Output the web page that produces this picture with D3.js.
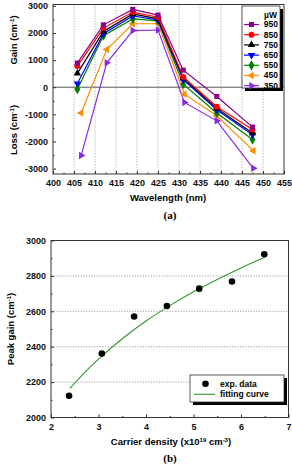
<!DOCTYPE html>
<html>
<head>
<meta charset="utf-8">
<script src="https://cdn.jsdelivr.net/npm/d3@7"></script>
<style>
  body { margin: 0; background: #fff; }
  svg { display: block; font-family: "Liberation Sans", Arial, sans-serif; font-weight: bold; }
</style>
</head>
<body>
<svg id="chart" width="292" height="465"></svg>
<script>
// panel (a) data: gain/loss spectra for each pump power
var powers = ["950", "850", "750", "650", "550", "450", "350"];
var powerColors = ["#8b008b", "#ff0000", "#000000", "#0000ff", "#008000", "#ff8c00", "#8a2be2"];
var wlBase = [405.8, 412, 419, 425, 431, 439, 447.5];
var wlShift = [406.7, 412.8, 419, 425, 431.3, 439, 447.7];
var gain950 = [890, 2300, 2870, 2660, 630, -340, -1470];
var gain850 = [780, 2180, 2770, 2580, 380, -720, -1560];
var gain750 = [510, 2055, 2700, 2520, 330, -780, -1690];
var gain650 = [135, 1970, 2630, 2480, 280, -830, -1750];
var gain550 = [-75, 1900, 2520, 2445, 110, -950, -1930];
var gain450 = [-950, 1390, 2340, 2340, -255, -1050, -2340];
var gain350 = [-2520, 900, 2090, 2110, -560, -1240, -2990];
var xTicksA = [400, 405, 410, 415, 420, 425, 430, 435, 440, 445, 450, 455];
var yTicksA = [-3000, -2000, -1000, 0, 1000, 2000, 3000];

// panel (b) data: peak gain vs carrier density
var density = [2.38, 3.07, 3.75, 4.44, 5.12, 5.81, 6.49];
var peakGain = [2123, 2361, 2571, 2630, 2728, 2768, 2922];
var fitDensity = [2.4, 2.7, 3.0, 3.5, 4.0, 4.5, 5.0, 5.5, 6.0, 6.5];
var fitGain = [2165, 2252, 2330, 2445, 2545, 2632, 2710, 2780, 2845, 2905];
var xTicksB = [2, 3, 4, 5, 6, 7];
var yTicksB = [2000, 2200, 2400, 2600, 2800, 3000];

var svg = d3.select("#chart");
var plain = function(d) { return String(d); };

//Panel (a)
var series = [gain950, gain850, gain750, gain650, gain550, gain450, gain350].map(function(vals, i) {
    var wl = i >= 5 ? wlShift : wlBase;
    return {key: powers[i], color: powerColors[i], shape: i,
        points: vals.map(function(v, j) { return {x: wl[j], y: v}; })};
});

var xa = d3.scaleLinear().domain([400, 455]).range([53, 284]);
var ya = d3.scaleLinear().domain([-3200, 3050]).range([174, 4.5]);

var shapes = [d3.symbolSquare, d3.symbolCircle, d3.symbolTriangle, d3.symbolTriangle,
    d3.symbolDiamond, d3.symbolTriangle, d3.symbolTriangle];
var rot = [0, 0, 0, 180, 0, -90, 90];
var sizes = [26, 28, 24, 24, 30, 24, 24];

var ga = svg.append("g");

// dotted verticals
ga.selectAll(".vgrid")
    .data(d3.range(405, 451, 5))
    .enter().append("line")
    .attr("x1", function(d) { return xa(d); })
    .attr("x2", function(d) { return xa(d); })
    .attr("y1", ya.range()[1]).attr("y2", ya.range()[0])
    .attr("stroke", "#999").attr("stroke-width", 0.8)
    .attr("stroke-dasharray", "1.2,1.5");

// zero line
ga.append("line")
    .attr("x1", xa.range()[0]).attr("x2", xa.range()[1])
    .attr("y1", ya(0)).attr("y2", ya(0))
    .attr("stroke", "#555").attr("stroke-width", 1);

ga.append("g")
    .attr("transform", "translate(0," + ya.range()[0] + ")")
    .call(d3.axisBottom(xa).tickValues(xTicksA).tickSize(-3).tickPadding(6).tickFormat(plain));
ga.append("g")
    .attr("transform", "translate(0," + ya.range()[0] + ")")
    .call(d3.axisBottom(xa).tickValues(d3.range(402.5, 455, 5)).tickSize(-1.5).tickFormat(""));
ga.append("g")
    .attr("transform", "translate(" + xa.range()[0] + ",0)")
    .call(d3.axisLeft(ya).tickValues(yTicksA).tickSize(-3).tickPadding(5).tickFormat(plain));
ga.append("g")
    .attr("transform", "translate(" + xa.range()[0] + ",0)")
    .call(d3.axisLeft(ya).tickValues(d3.range(-2500, 3000, 1000)).tickSize(-1.5).tickFormat(""));

ga.selectAll(".domain").remove();
ga.selectAll(".tick line").attr("stroke", "#333");
ga.selectAll(".tick text").attr("font-size", 9).attr("font-weight", "bold").attr("fill", "#111")
    .attr("font-family", "Liberation Sans, Arial, sans-serif");

ga.append("rect")
    .attr("x", xa.range()[0]).attr("y", ya.range()[1])
    .attr("width", xa.range()[1] - xa.range()[0])
    .attr("height", ya.range()[0] - ya.range()[1])
    .attr("fill", "none").attr("stroke", "#333").attr("stroke-width", 1);

var lineA = d3.line().x(function(d) { return xa(d.x); }).y(function(d) { return ya(d.y); });

var sg = ga.selectAll(".series")
    .data(series.slice().reverse())
    .enter().append("g")
    .attr("class", "series");

sg.append("path")
    .attr("d", function(d) { return lineA(d.points); })
    .attr("fill", "none")
    .attr("stroke", function(d) { return d.color; })
    .attr("stroke-width", 1.2);

sg.selectAll("path.mark")
    .data(function(d) { return d.points.map(function(p) { return {p: p, s: d}; }); })
    .enter().append("path")
    .attr("class", "mark")
    .attr("d", function(d) { return d3.symbol().type(shapes[d.s.shape]).size(sizes[d.s.shape])(); })
    .attr("transform", function(d) {
        return "translate(" + xa(d.p.x) + "," + ya(d.p.y) + ") rotate(" + rot[d.s.shape] + ")";
    })
    .attr("fill", function(d) { return d.s.color; });

// axis titles
ga.append("text")
    .attr("transform", "translate(17,40) rotate(-90)")
    .attr("text-anchor", "middle").attr("font-size", 9.5)
    .html('Gain (cm<tspan dy="-3" font-size="6">-1</tspan><tspan dy="3">)</tspan>');
ga.append("text")
    .attr("transform", "translate(17,130) rotate(-90)")
    .attr("text-anchor", "middle").attr("font-size", 9.5)
    .html('Loss (cm<tspan dy="-3" font-size="6">-1</tspan><tspan dy="3">)</tspan>');
ga.append("text")
    .attr("x", 168).attr("y", 201)
    .attr("text-anchor", "middle").attr("font-size", 9.5)
    .text("Wavelength (nm)");
ga.append("text")
    .attr("x", 170).attr("y", 219)
    .attr("text-anchor", "middle").attr("font-size", 11)
    .attr("font-family", "Liberation Serif, serif")
    .text("(a)");

// legend (a)
var legA = ga.append("g").attr("transform", "translate(242,6)");
legA.append("rect").attr("x", 3).attr("y", 3).attr("width", 38).attr("height", 82).attr("fill", "#000");
legA.append("rect").attr("x", 0).attr("y", 0).attr("width", 38).attr("height", 82)
    .attr("fill", "#fff").attr("stroke", "#333").attr("stroke-width", 0.8);
legA.append("text").attr("x", 35).attr("y", 11.5).attr("text-anchor", "end")
    .attr("font-size", 8.5).text("\u00b5W");
var legItem = legA.selectAll(".li")
    .data(series)
    .enter().append("g")
    .attr("transform", function(d, i) { return "translate(0," + (18.5 + i * 10.2) + ")"; });
legItem.append("line")
    .attr("x1", 2).attr("x2", 17)
    .attr("stroke", function(d) { return d.color; }).attr("stroke-width", 1.2);
legItem.append("path")
    .attr("d", function(d) { return d3.symbol().type(shapes[d.shape]).size(sizes[d.shape])(); })
    .attr("transform", function(d) { return "translate(9.5,0) rotate(" + rot[d.shape] + ")"; })
    .attr("fill", function(d) { return d.color; });
legItem.append("text")
    .attr("x", 36).attr("dy", "0.35em")
    .attr("text-anchor", "end").attr("font-size", 8.5)
    .text(function(d) { return d.key; });

//Panel (b)
var xb = d3.scaleLinear().domain([2, 7]).range([51, 288.5]);
var yb = d3.scaleLinear().domain([2000, 3000]).range([417.5, 240.5]);

var gb = svg.append("g");

gb.selectAll(".hgrid")
    .data([2200, 2400, 2600, 2800])
    .enter().append("line")
    .attr("x1", xb.range()[0]).attr("x2", xb.range()[1])
    .attr("y1", function(d) { return yb(d); })
    .attr("y2", function(d) { return yb(d); })
    .attr("stroke", "#888").attr("stroke-width", 0.8)
    .attr("stroke-dasharray", "1.2,1.5");

gb.append("g")
    .attr("transform", "translate(0," + yb.range()[0] + ")")
    .call(d3.axisBottom(xb).tickValues(xTicksB).tickSize(-3).tickPadding(6).tickFormat(plain));
gb.append("g")
    .attr("transform", "translate(0," + yb.range()[0] + ")")
    .call(d3.axisBottom(xb).tickValues([2.5, 3.5, 4.5, 5.5, 6.5]).tickSize(-1.5).tickFormat(""));
gb.append("g")
    .attr("transform", "translate(" + xb.range()[0] + ",0)")
    .call(d3.axisLeft(yb).tickValues(yTicksB).tickSize(-3).tickPadding(5).tickFormat(plain));
gb.append("g")
    .attr("transform", "translate(" + xb.range()[0] + ",0)")
    .call(d3.axisLeft(yb).tickValues([2100, 2300, 2500, 2700, 2900]).tickSize(-1.5).tickFormat(""));

gb.selectAll(".domain").remove();
gb.selectAll(".tick line").attr("stroke", "#333");
gb.selectAll(".tick text").attr("font-size", 9).attr("font-weight", "bold").attr("fill", "#111")
    .attr("font-family", "Liberation Sans, Arial, sans-serif");

gb.append("rect")
    .attr("x", xb.range()[0]).attr("y", yb.range()[1])
    .attr("width", xb.range()[1] - xb.range()[0])
    .attr("height", yb.range()[0] - yb.range()[1])
    .attr("fill", "none").attr("stroke", "#333").attr("stroke-width", 1);

var fitLine = d3.line().curve(d3.curveMonotoneX)
    .x(function(d, i) { return xb(fitDensity[i]); })
    .y(function(d) { return yb(d); });
gb.append("path")
    .attr("d", fitLine(fitGain))
    .attr("fill", "none").attr("stroke", "#2e9b2e").attr("stroke-width", 1.1);

gb.selectAll(".dot")
    .data(peakGain)
    .enter().append("circle")
    .attr("cx", function(d, i) { return xb(density[i]); })
    .attr("cy", function(d) { return yb(d); })
    .attr("r", 3.3)
    .attr("fill", "#000");

gb.append("text")
    .attr("transform", "translate(14,329) rotate(-90)")
    .attr("text-anchor", "middle").attr("font-size", 9.5)
    .html('Peak gain (cm<tspan dy="-3" font-size="6">-1</tspan><tspan dy="3">)</tspan>');
gb.append("text")
    .attr("x", 171).attr("y", 445)
    .attr("text-anchor", "middle").attr("font-size", 9.5)
    .html('Carrier density (x10<tspan dy="-3" font-size="6">19</tspan><tspan dy="3"> cm</tspan><tspan dy="-3" font-size="6">-3</tspan><tspan dy="3">)</tspan>');
gb.append("text")
    .attr("x", 170).attr("y", 462)
    .attr("text-anchor", "middle").attr("font-size", 11)
    .attr("font-family", "Liberation Serif, serif")
    .text("(b)");

// legend (b)
var legB = gb.append("g").attr("transform", "translate(190,375)");
legB.append("rect").attr("x", 3).attr("y", 3).attr("width", 94).attr("height", 27).attr("fill", "#000");
legB.append("rect").attr("x", 0).attr("y", 0).attr("width", 94).attr("height", 27)
    .attr("fill", "#fff").attr("stroke", "#333").attr("stroke-width", 0.8);
legB.append("circle").attr("cx", 15.5).attr("cy", 8.7).attr("r", 3.3).attr("fill", "#000");
legB.append("text").attr("x", 30).attr("y", 8.7).attr("dy", "0.35em").attr("font-size", 8.5).text("exp. data");
legB.append("line").attr("x1", 4).attr("x2", 25).attr("y1", 19.3).attr("y2", 19.3)
    .attr("stroke", "#2e9b2e").attr("stroke-width", 1.1);
legB.append("text").attr("x", 30).attr("y", 19.3).attr("dy", "0.35em").attr("font-size", 8.5).text("fitting curve");
</script>
</body>
</html>
